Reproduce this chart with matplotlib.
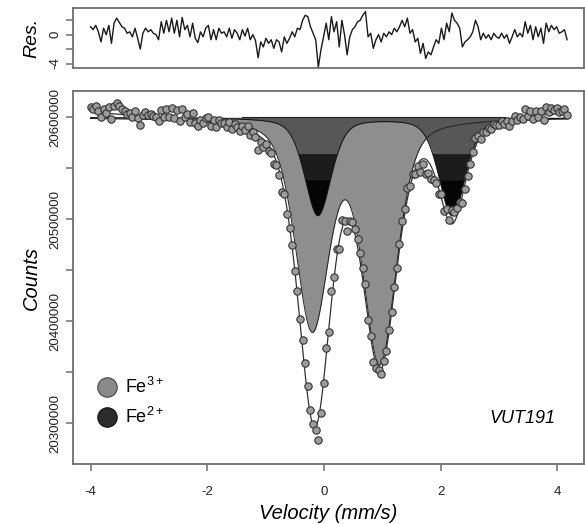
import numpy as np
import matplotlib
matplotlib.use('Agg')
import matplotlib.pyplot as plt

plt.rcParams['font.family'] = ['Liberation Sans', 'DejaVu Sans']
plt.rcParams['mathtext.fontset'] = 'custom'
plt.rcParams['mathtext.rm'] = 'Liberation Sans'

# residuals (channel by channel, left to right)
res = [1.1, 0.7, 1.3, 0.4, -1.0, 0.9, 0.0, 1.3, -1.2, 1.6, 2.3, 1.7, 1.1, 0.9, 0.2, 0.4,
       -0.3, 0.9, -0.5, -2.0, 0.2, 0.9, 0.4, 0.7, 0.2, 0.0, -0.7, 1.8, 0.2, 2.0, 0.4, 2.3,
       0.2, 2.0, -0.3, 2.4, 0.7, 1.3, -0.3, 1.6, -0.5, -1.1, 0.4, -0.3, 0.9, 1.3, -0.7, 0.7,
       -0.7, 0.9, 0.2, 0.4, -0.3, 0.9, -0.5, 0.7, 0.2, -0.7, 0.7, -0.2, 0.9, -0.7, 0.0, -0.8,
       -3.2, -1.0, -1.7, -0.5, -1.2, -0.7, -1.9, -0.7, -1.0, -2.4, -0.3, -1.2, -0.5, 0.4, -0.3, 0.9,
       0.7, 2.0, 2.7, 2.5, 1.1, 0.2, -0.7, -4.5, -2.1, -0.3, 1.6, -0.7, 2.5, 0.4, 1.8, -1.7,
       2.0, 0.0, -2.8, -0.3, 0.7, 1.1, 1.8, 2.0, 2.7, 3.2, -0.3, 0.2, -1.9, -0.7, 0.0, -1.0,
       0.2, -0.3, 0.4, 0.0, 0.9, 0.4, 1.1, 2.0, 1.1, 2.3, 0.2, 0.7, -1.0, -0.5, -2.6, -1.2,
       -3.3, -2.4, -2.8, -1.7, -0.7, -1.2, 0.9, -0.7, 1.6, 0.4, 3.0, 2.0, 1.6, 0.9, -1.7, -1.0,
       -0.7, -0.3, 0.4, 2.0, 1.1, -0.7, 0.2, -0.5, 0.0, -0.7, 0.2, -0.3, -0.5, 0.2, -0.5, 0.0,
       -1.2, -0.3, 0.7, -0.3, 0.2, -0.3, 1.8, 0.2, 1.3, -0.7, 1.1, -0.3, 0.9, -1.2, 1.6, 0.4,
       1.3, 0.7, 1.1, 0.2, 0.4, 0.7, -0.7]
v_start, v_end = -4.0, 4.17

# fitted doublets (pseudo-Voigt lines): position, half width, depth
fe3_pos = [-0.20, 0.96]
fe3_hw = [0.34, 0.34]
fe3_depth = [203000, 236000]
fe2_pos = [-0.10, 2.20]
fe2_hw = [0.27, 0.27]
fe2_depth = [96000, 96000]
lor_frac = 0.42
base_level = 20600000
base_c0 = 20598000
base_c2 = 550
sigma = 4540

vel = np.linspace(v_start, v_end, len(res))
vf = np.linspace(v_start, v_end, 1500)


def doublet(v, pos, hw, depth):
    out = np.zeros_like(v)
    for p, w, d in zip(pos, hw, depth):
        x = ((v - p) / w) ** 2
        out += d * (lor_frac / (1 + x) + (1 - lor_frac) * np.exp(-np.log(2) * x))
    return out


def total(v):
    return base_c0 + base_c2 * v ** 2 - doublet(v, fe3_pos, fe3_hw, fe3_depth) - doublet(v, fe2_pos, fe2_hw, fe2_depth)


counts = total(vel) + np.array(res) * sigma
fe3_curve = base_level - doublet(vf, fe3_pos, fe3_hw, fe3_depth)
fe2_curve = base_level - doublet(vf, fe2_pos, fe2_hw, fe2_depth)

fig = plt.figure(figsize=(5.85, 5.24), dpi=100)
axr = fig.add_axes([0.1248, 0.8708, 0.8735, 0.1139])
ax = fig.add_axes([0.1248, 0.1145, 0.8735, 0.7118])

spine_col = '#6e6e6e'
for a in (ax, axr):
    for s in a.spines.values():
        s.set_color(spine_col)
        s.set_linewidth(1.3)
    a.tick_params(colors=spine_col, labelcolor='#222222', length=5, width=1.1, labelsize=9.5)

# residual panel
axr.plot(vel, res, color='#1a1a1a', lw=1.0)
axr.set_xlim(-4.3, 4.46)
axr.set_ylim(-4.58, 3.7)
axr.set_xticks([])
axr.set_yticks([2, 0, -2, -4])
axr.set_yticklabels(['', '0', '', '-4'], rotation=90, va='center')
axr.set_ylabel('Res.', fontsize=14, style='italic', labelpad=6)

# main panel
ax.fill_between(vf, base_level, fe3_curve, color='#8e8e8e', lw=0)
ax.plot(vf, fe3_curve, color='#222222', lw=0.7)
lev1, lev2 = 20564000, 20538500
ax.fill_between(vf, base_level, np.maximum(fe2_curve, lev1), color='#575757', lw=0)
ax.fill_between(vf, lev1, np.maximum(fe2_curve, lev2), where=fe2_curve < lev1,
                interpolate=True, color='#1c1c1c', lw=0)
ax.fill_between(vf, lev2, fe2_curve, where=fe2_curve < lev2,
                interpolate=True, color='#050505', lw=0)
ax.plot(vf, fe2_curve, color='#111111', lw=0.7)
ax.plot([-1.4, 3.1], [base_level, base_level], color='#222222', lw=0.8)

ax.plot(vf, total(vf), color='#333333', lw=0.9)
ax.plot(vel, counts, 'o', ms=5.3, mfc='#9c9c9c', mec='#333333', mew=0.8)

ax.set_xlim(-4.3, 4.46)
ax.set_ylim(20260100, 20625800)
ax.set_xticks([-4, -2, 0, 2, 4])
ax.set_xticklabels(['-4', '-2', '0', '2', '4'])
yt = np.arange(20300000, 20600001, 50000)
ax.set_yticks(yt)
ax.set_yticklabels([str(t) if t % 100000 == 0 else '' for t in yt], rotation=90, va='center')
ax.tick_params(axis='x', pad=11)
ax.set_xlabel('Velocity (mm/s)', fontsize=14.5, style='italic', labelpad=4)
ax.set_ylabel('Counts', fontsize=14.5, style='italic', labelpad=6)

# legend and sample name
ax.plot([0.066], [0.207], 'o', ms=14, mfc='#8a8a8a', mec='#444444', mew=0.8, transform=ax.transAxes)
ax.plot([0.066], [0.127], 'o', ms=14, mfc='#2b2b2b', mec='#111111', mew=0.8, transform=ax.transAxes)
ax.text(0.102, 0.207, r'Fe$^{\mathregular{3+}}$', fontsize=13, va='center', transform=ax.transAxes)
ax.text(0.102, 0.127, r'Fe$^{\mathregular{2+}}$', fontsize=13, va='center', transform=ax.transAxes)
ax.text(0.945, 0.123, 'VUT191', fontsize=13, style='italic', ha='right', va='center',
        transform=ax.transAxes)

fig.savefig('out.png', dpi=100)
